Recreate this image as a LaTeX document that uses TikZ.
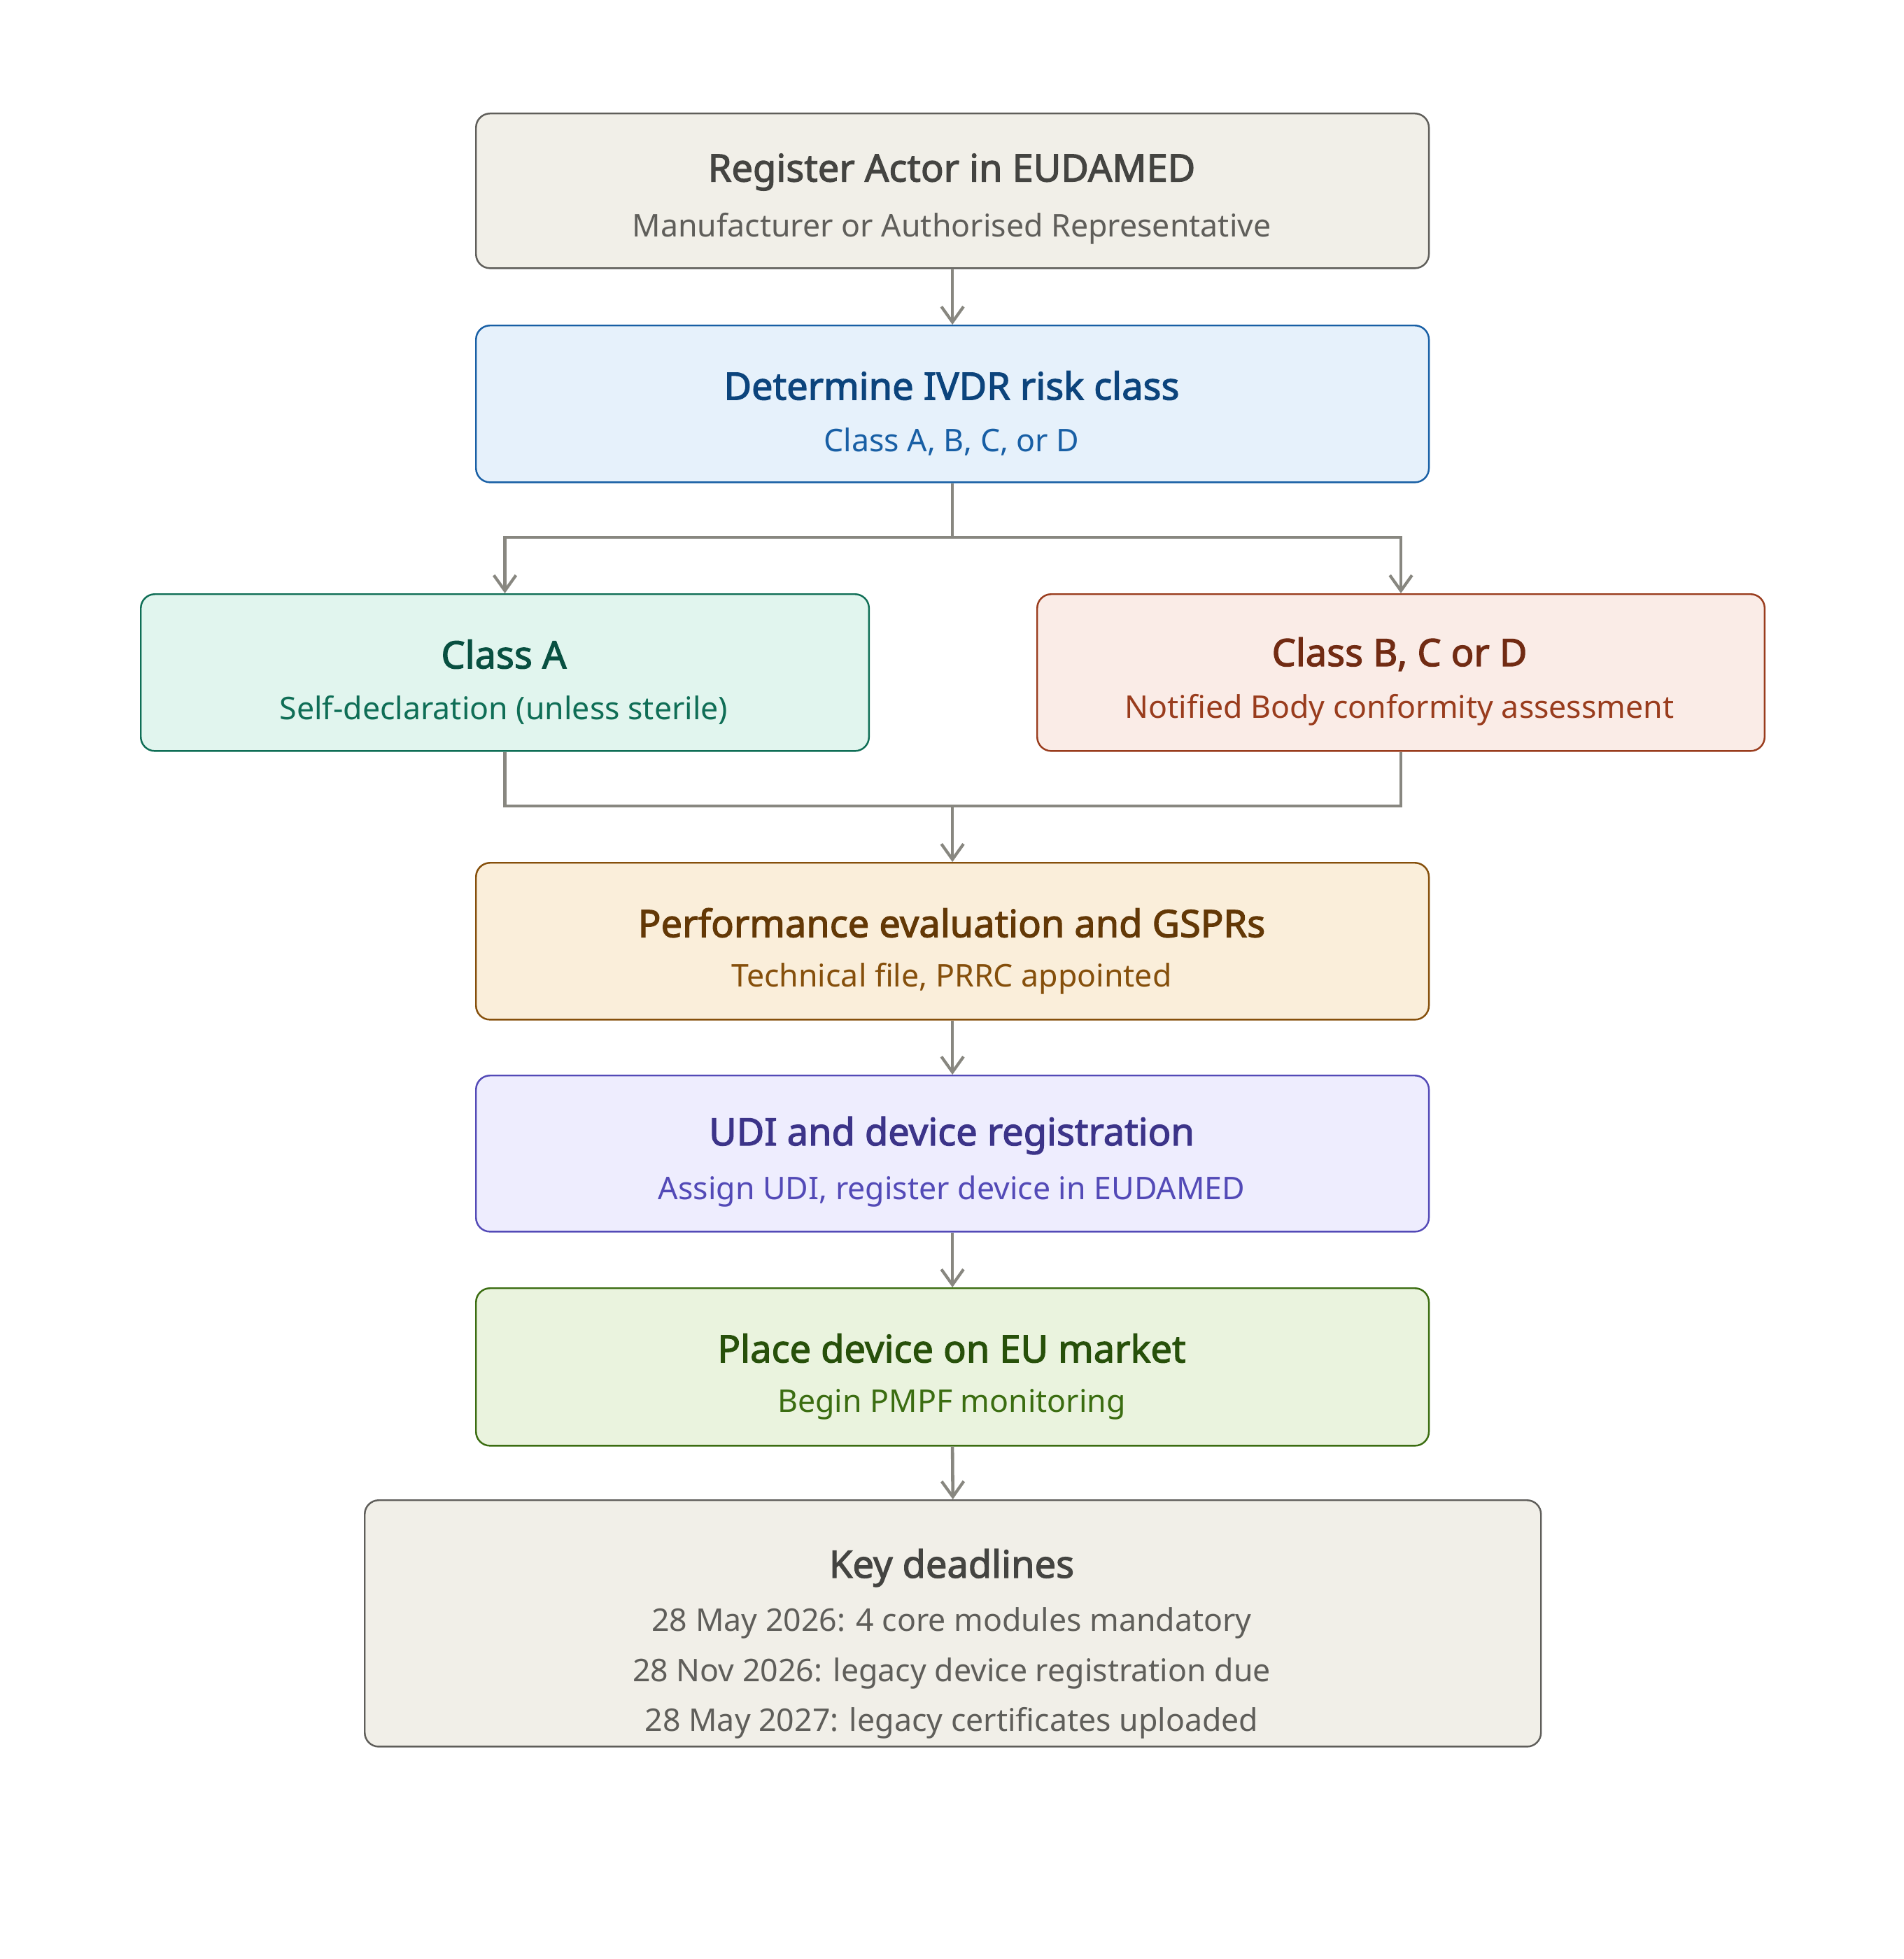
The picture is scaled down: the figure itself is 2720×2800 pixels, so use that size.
\documentclass[tikz,border=0pt]{standalone}
\usepackage{fontspec}
\setmainfont{Noto Sans}[AutoFakeBold=2.2]
\usetikzlibrary{arrows.meta}
\definecolor{arr}{HTML}{888780}
\definecolor{gF}{HTML}{F1EFE8}\definecolor{gB}{HTML}{5F5E5A}\definecolor{gT}{HTML}{444441}
\definecolor{bF}{HTML}{E6F1FB}\definecolor{bB}{HTML}{185FA5}\definecolor{bT}{HTML}{0C447C}
\definecolor{tF}{HTML}{E1F5EE}\definecolor{tB}{HTML}{0F6E56}\definecolor{tT}{HTML}{085041}
\definecolor{rF}{HTML}{FAECE7}\definecolor{rB}{HTML}{993C1D}\definecolor{rT}{HTML}{712B13}
\definecolor{oF}{HTML}{FAEEDA}\definecolor{oB}{HTML}{854F0B}\definecolor{oT}{HTML}{633806}
\definecolor{pF}{HTML}{EEEDFE}\definecolor{pB}{HTML}{534AB7}\definecolor{pT}{HTML}{3C3489}
\definecolor{lF}{HTML}{EAF3DE}\definecolor{lB}{HTML}{3B6D11}\definecolor{lT}{HTML}{27500A}
\tikzset{
  boxstyle/.style={draw, line width=0.7pt, rounded corners=5.7pt, inner sep=0pt, anchor=north west},
  ttl/.style={font=\fontsize{15.4}{18}\selectfont\bfseries, inner sep=0pt},
  sub/.style={font=\fontsize{12.7}{15}\selectfont, inner sep=0pt},
  conn/.style={draw=arr, line width=1.3pt, -{Straight Barb[length=6.3pt,width=9pt,line width=1.2pt]}},
  link/.style={draw=arr, line width=1.3pt}
}
\begin{document}
\begin{tikzpicture}[x=0.01cm,y=-0.01cm]
\useasboundingbox (0,0) rectangle (2720,2800);
% boxes
\node[boxstyle, fill=gF, draw=gB, minimum width=13.61cm, minimum height=2.21cm] (b1) at (679,161) {};
\node[boxstyle, fill=bF, draw=bB, minimum width=13.61cm, minimum height=2.24cm] (b2) at (679,464) {};
\node[boxstyle, fill=tF, draw=tB, minimum width=10.40cm, minimum height=2.24cm] (ca) at (200,848) {};
\node[boxstyle, fill=rF, draw=rB, minimum width=10.39cm, minimum height=2.24cm] (cb) at (1481,848) {};
\node[boxstyle, fill=oF, draw=oB, minimum width=13.61cm, minimum height=2.24cm] (pe) at (679,1232) {};
\node[boxstyle, fill=pF, draw=pB, minimum width=13.61cm, minimum height=2.23cm] (udi) at (679,1536) {};
\node[boxstyle, fill=lF, draw=lB, minimum width=13.61cm, minimum height=2.25cm] (pl) at (679,1840) {};
\node[boxstyle, fill=gF, draw=gB, minimum width=16.80cm, minimum height=3.52cm] (kd) at (520,2143) {};
% texts
\node[ttl, text=gT] (b1t) at (1360,246) {Register Actor in EUDAMED};
\node[sub, text=gB] (b1s) at (1360,327) {Manufacturer or Authorised Representative};
\node[ttl, text=bT] (b2t) at (1360,551) {Determine IVDR risk class};
\node[sub, text=bB] (b2s) at (1360,631) {Class A, B, C, or D};
\node[ttl, text=tT] (cat) at (720,935) {Class A};
\node[sub, text=tB] (cas) at (720,1015) {Self-declaration (unless sterile)};
\node[ttl, text=rT] (cbt) at (2000,935) {Class B, C or D};
\node[sub, text=rB] (cbs) at (2000,1015) {Notified Body conformity assessment};
\node[ttl, text=oT] (pet) at (1360,1319) {Performance evaluation and GSPRs};
\node[sub, text=oB] (pes) at (1360,1399) {Technical file, PRRC appointed};
\node[ttl, text=pT] (udit) at (1360,1623) {UDI and device registration};
\node[sub, text=pB] (udis) at (1360,1703) {Assign UDI, register device in EUDAMED};
\node[ttl, text=lT] (plt) at (1360,1927) {Place device on EU market};
\node[sub, text=lB] (pls) at (1360,2007) {Begin PMPF monitoring};
\node[ttl, text=gT] (kdt) at (1360,2241) {Key deadlines};
\node[sub, text=gB] (kd1) at (1360,2320) {28 May 2026: 4 core modules mandatory};
\node[sub, text=gB] (kd2) at (1360,2392) {28 Nov 2026: legacy device registration due};
\node[sub, text=gB] (kd3) at (1360,2463) {28 May 2027: legacy certificates uploaded};
% connectors
\coordinate (split) at (b2.south |- 0,768);
\coordinate (merge) at (b2.south |- 0,1152);
\draw[link] (b2.south) -- (split);
\draw[conn] (b1.south) -- (b2.north);
\draw[conn] (split) -| (ca.north);
\draw[conn] (split) -| (cb.north);
\draw[link] (ca.south) |- (merge);
\draw[link] (cb.south) |- (merge);
\draw[conn] (merge) -- (pe.north);
\draw[conn] (pe.south) -- (udi.north);
\draw[conn] (udi.south) -- (pl.north);
\draw[conn] (pl.south) -- (kd.north);
\end{tikzpicture}
\end{document}
